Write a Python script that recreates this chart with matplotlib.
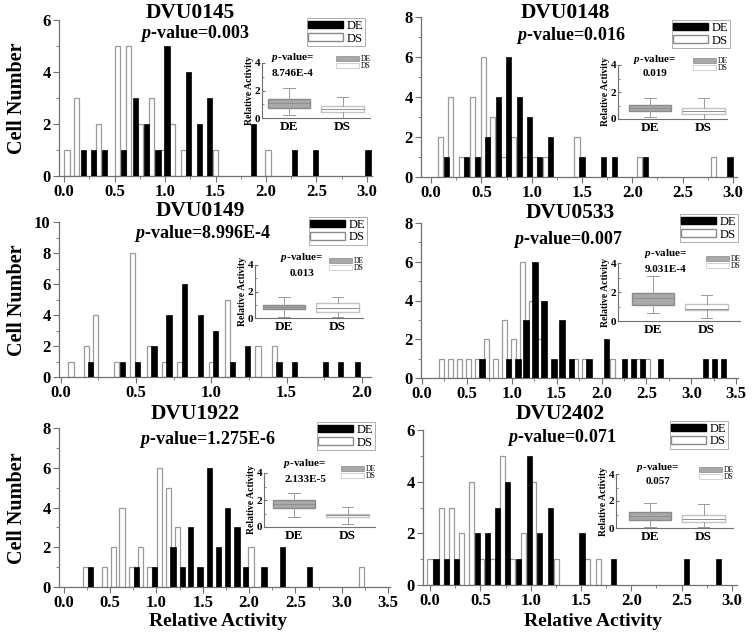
import matplotlib
matplotlib.use("Agg")

import matplotlib.pyplot as plt
from matplotlib.patches import Patch
from matplotlib.ticker import MultipleLocator, FormatStrFormatter, AutoMinorLocator

W_PX, H_PX = 752, 636

plt.rcParams["font.family"] = ["Liberation Serif", "DejaVu Serif"]
plt.rcParams["font.weight"] = "bold"
plt.rcParams["mathtext.fontset"] = "custom"
plt.rcParams["mathtext.it"] = "Liberation Serif:italic:bold"
plt.rcParams["mathtext.rm"] = "Liberation Serif:bold"

# ---- data ----
GENES = ["DVU0145", "DVU0148", "DVU0149", "DVU0533", "DVU1922", "DVU2402"]
P_HIST = ["0.003", "0.016", "8.996E-4", "0.007", "1.275E-6", "0.071"]
P_BOX = ["8.746E-4", "0.019", "0.013", "9.031E-4", "2.133E-5", "0.057"]

# DVU0145
DS_X_0145 = [0.03, 0.12, 0.34, 0.53, 0.64, 0.76, 0.87, 0.97, 1.07, 1.18, 1.50, 2.02]
DS_N_0145 = [1, 3, 2, 5, 5, 2, 3, 1, 2, 1, 1, 1]
DE_X_0145 = [0.19, 0.29, 0.40, 0.59, 0.71, 0.82, 0.93, 1.02, 1.23, 1.34, 1.44, 1.88, 2.28, 2.49, 3.01]
DE_N_0145 = [1, 1, 1, 1, 3, 2, 1, 5, 4, 2, 3, 2, 1, 1, 1]

# DVU0148
DS_X_0148 = [0.09, 0.19, 0.30, 0.41, 0.52, 0.61, 0.72, 0.82, 0.93, 1.03, 1.14, 1.45, 2.07, 2.81]
DS_N_0148 = [2, 4, 1, 4, 6, 3, 1, 2, 1, 1, 1, 2, 1, 1]
DE_X_0148 = [0.15, 0.35, 0.46, 0.56, 0.67, 0.77, 0.88, 0.98, 1.08, 1.19, 1.50, 1.71, 1.82, 2.13, 2.97]
DE_N_0148 = [1, 1, 1, 2, 4, 6, 4, 3, 1, 2, 1, 1, 1, 1, 1]

# DVU0149
DS_X_0149 = [0.07, 0.17, 0.23, 0.37, 0.48, 0.59, 0.69, 0.79, 1.00, 1.11, 1.31, 1.42]
DS_N_0149 = [1, 2, 4, 1, 8, 2, 1, 1, 1, 5, 2, 2]
DE_X_0149 = [0.20, 0.41, 0.51, 0.62, 0.72, 0.82, 0.93, 1.03, 1.14, 1.24, 1.45, 1.55, 1.76, 1.86, 1.97]
DE_N_0149 = [1, 1, 1, 2, 4, 6, 4, 3, 1, 2, 1, 1, 1, 1, 1]

# DVU0533
DS_X_0533 = [0.22, 0.32, 0.42, 0.52, 0.62, 0.72, 0.82, 0.92, 1.02, 1.12, 1.22, 1.31,
             1.71, 1.81, 2.12, 2.41, 2.51]
DS_N_0533 = [1, 1, 1, 1, 1, 2, 1, 3, 2, 6, 4, 2, 1, 1, 1, 1, 1]
DE_X_0533 = [0.67, 0.96, 1.07, 1.16, 1.26, 1.36, 1.47, 1.56, 1.67, 1.86, 2.06, 2.26,
             2.36, 2.46, 2.66, 3.16, 3.26, 3.36]
DE_N_0533 = [1, 1, 1, 3, 6, 4, 1, 3, 1, 1, 2, 1, 1, 1, 1, 1, 1, 1]

# DVU1922
DS_X_1922 = [0.24, 0.44, 0.54, 0.63, 0.73, 0.83, 0.93, 1.03, 1.13, 1.23, 2.02, 3.21]
DS_N_1922 = [1, 1, 2, 4, 1, 2, 1, 6, 5, 3, 2, 1]
DE_X_1922 = [0.29, 0.79, 0.98, 1.18, 1.28, 1.37, 1.47, 1.57, 1.67, 1.77, 1.87, 1.96,
             2.16, 2.36, 2.65]
DE_N_1922 = [1, 1, 1, 2, 1, 3, 1, 6, 2, 4, 3, 1, 1, 2, 1]

# DVU2402
DS_X_2402 = [0.00, 0.11, 0.21, 0.31, 0.41, 0.51, 0.62, 0.72, 0.82, 0.93, 1.03, 1.26, 1.56, 1.67]
DS_N_2402 = [1, 3, 3, 2, 4, 1, 1, 5, 1, 2, 4, 1, 1, 1]
DE_X_2402 = [0.06, 0.16, 0.26, 0.47, 0.57, 0.67, 0.77, 0.88, 0.99, 1.09, 1.20, 1.51,
             1.82, 2.55, 2.87]
DE_N_2402 = [1, 1, 1, 2, 2, 3, 4, 1, 5, 2, 3, 2, 1, 1, 1]

# inset box stats: whislo, q1, med, q3, whishi
BOX_DE = [[0.25, 0.72, 1.08, 1.38, 2.15],
          [0.12, 0.59, 0.79, 1.04, 1.55],
          [0.08, 0.71, 0.86, 1.01, 1.60],
          [0.53, 1.11, 1.57, 1.92, 3.08],
          [0.75, 1.38, 1.68, 2.00, 2.50],
          [0.08, 0.58, 0.88, 1.20, 1.88]]
BOX_DS = [[0.00, 0.41, 0.65, 0.89, 1.50],
          [0.00, 0.37, 0.59, 0.84, 1.55],
          [0.08, 0.46, 0.76, 1.16, 1.60],
          [0.18, 0.76, 0.86, 1.16, 1.76],
          [0.25, 0.75, 0.88, 1.00, 1.50],
          [0.08, 0.45, 0.70, 0.95, 1.78]]

HIST = [
    (DS_X_0145, DS_N_0145, DE_X_0145, DE_N_0145),
    (DS_X_0148, DS_N_0148, DE_X_0148, DE_N_0148),
    (DS_X_0149, DS_N_0149, DE_X_0149, DE_N_0149),
    (DS_X_0533, DS_N_0533, DE_X_0533, DE_N_0533),
    (DS_X_1922, DS_N_1922, DE_X_1922, DE_N_1922),
    (DS_X_2402, DS_N_2402, DE_X_2402, DE_N_2402),
]

# ---- layout (pixel positions in the 752x636 figure) ----
LAYOUT = [
    dict(rect=(59, 20, 372, 176), xlim=(-0.05, 3.05), ymax=6,
         title=(190, 13), pval=(195, 33), leg=(365, 18),
         inset=(262, 63, 370, 118), off=27, ptxt=(293, 58)),
    dict(rect=(421, 17, 737, 177), xlim=(-0.10, 3.04), ymax=8,
         title=(565, 13), pval=(571, 35), leg=(730, 20),
         inset=(618, 65, 727, 119), off=32, ptxt=(655, 59)),
    dict(rect=(59, 222, 371, 377), xlim=(-0.01, 2.06), ymax=10,
         title=(200, 211), pval=(202, 234), leg=(367, 217),
         inset=(255, 265, 363, 318), off=29, ptxt=(302, 258)),
    dict(rect=(421, 223, 738, 378), xlim=(-0.01, 3.52), ymax=8,
         title=(570, 213), pval=(568, 240), leg=(738, 214),
         inset=(618, 263, 740, 321), off=35, ptxt=(666, 254)),
    dict(rect=(59, 428, 390, 587), xlim=(-0.05, 3.52), ymax=8,
         title=(195, 414), pval=(207, 440), leg=(375, 422),
         inset=(264, 473, 375, 527), off=30, ptxt=(305, 464)),
    dict(rect=(423, 430, 737, 585), xlim=(-0.07, 3.05), ymax=6,
         title=(560, 414), pval=(562, 437), leg=(728, 421),
         inset=(616, 474, 733, 528), off=34, ptxt=(658, 467)),
]

AXIS_GRAY = "#707070"
DE_BOX_FILL = "#a9a9a9"
DE_BOX_EDGE = "#8a8a8a"
DS_BOX_EDGE = "#c2c2c2"


def fig_rect(x0, y0, x1, y1):
    return [x0 / W_PX, 1 - y1 / H_PX, (x1 - x0) / W_PX, (y1 - y0) / H_PX]


def fx(x):
    return x / W_PX


def fy(y):
    return 1 - y / H_PX


def draw_inset(fig, cfg, de_stats, ds_stats, pbox):
    x0, y0, x1, y1 = cfg["inset"]
    ax = fig.add_axes(fig_rect(x0, y0, x1, y1))
    spacing = 53.5
    left = 1 - cfg["off"] / spacing
    ax.set_xlim(left, left + (x1 - x0) / spacing)
    ax.set_ylim(0, 4)

    stats = []
    for s in (de_stats, ds_stats):
        stats.append(dict(whislo=s[0], q1=s[1], med=s[2], q3=s[3], whishi=s[4], fliers=[]))
    bp = ax.bxp(stats, positions=[1, 2], widths=0.8, patch_artist=True,
                showfliers=False, capwidths=0.22,
                whiskerprops=dict(color="#9a9a9a", lw=0.7),
                capprops=dict(color="#9a9a9a", lw=0.7),
                medianprops=dict(color="#8f8f8f", lw=0.7))
    bp["boxes"][0].set_facecolor(DE_BOX_FILL)
    bp["boxes"][0].set_edgecolor(DE_BOX_EDGE)
    bp["boxes"][1].set_facecolor("white")
    bp["boxes"][1].set_edgecolor(DS_BOX_EDGE)
    for artist in bp["whiskers"] + bp["caps"] + bp["boxes"] + bp["medians"]:
        artist.set_clip_on(False)

    for side in ("top", "right"):
        ax.spines[side].set_visible(False)
    for side in ("left", "bottom"):
        ax.spines[side].set_color(AXIS_GRAY)
        ax.spines[side].set_linewidth(0.8)
    ax.set_yticks([0, 2, 4])
    ax.yaxis.set_minor_locator(MultipleLocator(1))
    ax.set_xticks([1, 2])
    ax.set_xticklabels(["DE", "DS"], fontsize=9.5, fontweight="bold")
    ax.tick_params(axis="x", length=0, pad=2)
    ax.tick_params(axis="y", which="major", labelsize=8, length=2.5, pad=1,
                   color=AXIS_GRAY, direction="in")
    ax.tick_params(axis="y", which="minor", length=1.5, color=AXIS_GRAY, direction="in")
    ax.set_ylabel("Relative Activity", fontsize=7, fontweight="bold", labelpad=1)

    px, py = cfg["ptxt"]
    fig.text(fx(px), fy(py), r"$p$-value=", ha="center", va="center", fontsize=8)
    fig.text(fx(px), fy(py + 15), pbox, ha="center", va="center", fontsize=8)

    handles = [Patch(facecolor=DE_BOX_FILL, edgecolor=DE_BOX_EDGE, lw=0.5),
               Patch(facecolor="white", edgecolor=DS_BOX_EDGE, lw=0.5)]
    ax.legend(handles, ["DE", "DS"], loc="upper right",
              bbox_to_anchor=(fx(x1 + 1), fy(y0 - 8)), bbox_transform=fig.transFigure,
              frameon=False, prop=dict(size=5.5, weight="normal"), handlelength=3,
              handleheight=0.7, labelspacing=-0.1, handletextpad=0.2, borderpad=0,
              borderaxespad=0)


fig = plt.figure(figsize=(W_PX / 100, H_PX / 100), dpi=100)

for i, cfg in enumerate(LAYOUT):
    ds_x, ds_n, de_x, de_n = HIST[i]
    x0, y0, x1, y1 = cfg["rect"]
    ax = fig.add_axes(fig_rect(x0, y0, x1, y1))
    ax.set_xlim(*cfg["xlim"])
    ax.set_ylim(0, cfg["ymax"])

    # each bar is about 5 px wide in the original
    px_per_unit = (x1 - x0) / (cfg["xlim"][1] - cfg["xlim"][0])
    width = 5.2 / px_per_unit
    ax.bar(ds_x, ds_n, width=width, color="white", edgecolor="#9a9a9a", lw=0.9, zorder=2)
    ax.bar(de_x, de_n, width=width, color="black", edgecolor="black", lw=0.5, zorder=3)

    for side in ("top", "right"):
        ax.spines[side].set_visible(False)
    for side in ("left", "bottom"):
        ax.spines[side].set_color(AXIS_GRAY)
        ax.spines[side].set_linewidth(0.9)
    ax.xaxis.set_major_locator(MultipleLocator(0.5))
    ax.xaxis.set_major_formatter(FormatStrFormatter("%.1f"))
    ax.xaxis.set_minor_locator(AutoMinorLocator(2))
    ax.yaxis.set_major_locator(MultipleLocator(2))
    ax.yaxis.set_minor_locator(AutoMinorLocator(2))
    ax.tick_params(which="major", labelsize=12, length=4, width=0.8,
                   color=AXIS_GRAY, direction="out", pad=2)
    ax.tick_params(which="minor", length=2, width=0.6, color=AXIS_GRAY, direction="out")

    tx, ty = cfg["title"]
    fig.text(fx(tx), fy(ty), GENES[i], ha="center", va="center", fontsize=15.5)
    px, py = cfg["pval"]
    fig.text(fx(px), fy(py), r"$p$-value=" + P_HIST[i], ha="center", va="center",
             fontsize=13)

    handles = [Patch(facecolor="black", edgecolor="black"),
               Patch(facecolor="white", edgecolor="#8a8a8a")]
    lx, ly = cfg["leg"]
    leg = ax.legend(handles, ["DE", "DS"], loc="upper right",
                    bbox_to_anchor=(fx(lx), fy(ly)), bbox_transform=fig.transFigure,
                    prop=dict(size=9, weight="normal"), handlelength=2.8,
                    handleheight=0.55, labelspacing=0.05, handletextpad=0.25,
                    borderpad=0.15, borderaxespad=0, fancybox=False)
    leg.get_frame().set_edgecolor("#9a9a9a")
    leg.get_frame().set_linewidth(0.7)

    draw_inset(fig, cfg, BOX_DE[i], BOX_DS[i], P_BOX[i])

for yc in (98, 300, 508):
    fig.text(fx(17), fy(yc), "Cell Number", rotation=90, ha="center", va="center",
             fontsize=14.5)
fig.text(fx(218), fy(622), "Relative Activity", ha="center", va="center", fontsize=14)
fig.text(fx(593), fy(622), "Relative Activity", ha="center", va="center", fontsize=14)

fig.savefig("out.png", dpi=100)
plt.close(fig)
